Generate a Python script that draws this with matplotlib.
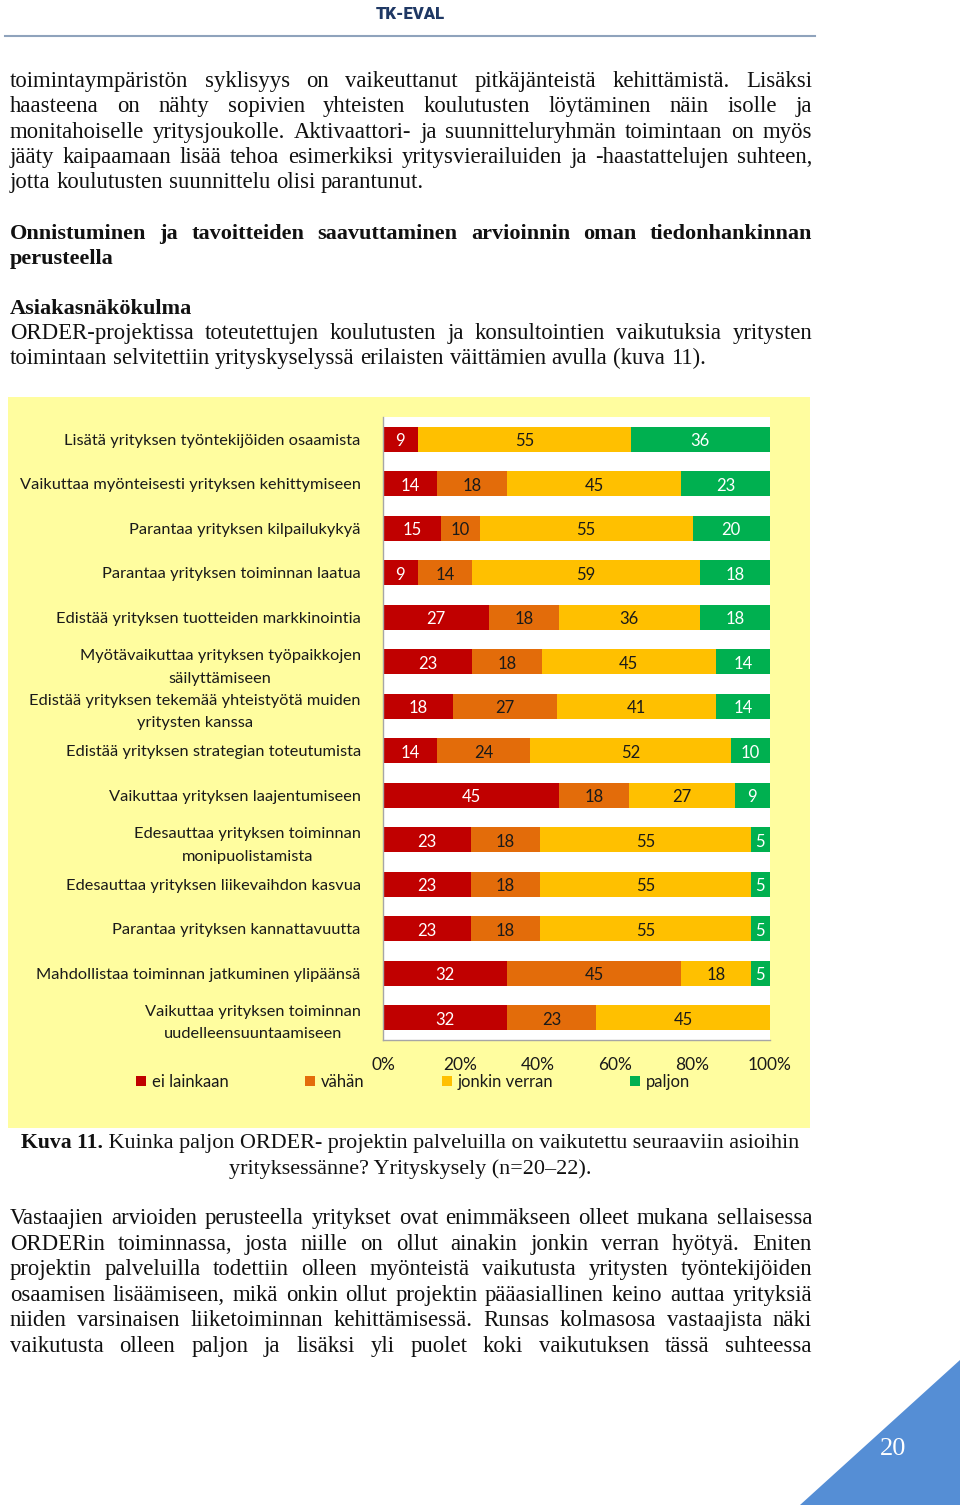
import matplotlib
matplotlib.use("Agg")
import matplotlib.pyplot as plt
from matplotlib.patches import Rectangle, Polygon
import numpy as np

W, H = 960, 1505

# chart data (percent, top row first)
categories = [
    "Lisätä yrityksen työntekijöiden osaamista",
    "Vaikuttaa myönteisesti yrityksen kehittymiseen",
    "Parantaa yrityksen kilpailukykyä",
    "Parantaa yrityksen toiminnan laatua",
    "Edistää yrityksen tuotteiden markkinointia",
    "Myötävaikuttaa yrityksen työpaikkojen\nsäilyttämiseen",
    "Edistää yrityksen tekemää yhteistyötä muiden\nyritysten kanssa",
    "Edistää yrityksen strategian toteutumista",
    "Vaikuttaa yrityksen laajentumiseen",
    "Edesauttaa yrityksen toiminnan\nmonipuolistamista",
    "Edesauttaa yrityksen liikevaihdon kasvua",
    "Parantaa yrityksen kannattavuutta",
    "Mahdollistaa toiminnan jatkuminen ylipäänsä",
    "Vaikuttaa yrityksen toiminnan\nuudelleensuuntaamiseen",
]
ei_lainkaan = [9, 14, 15, 9, 27, 23, 18, 14, 45, 23, 23, 23, 32, 32]
vahan = [0, 18, 10, 14, 18, 18, 27, 24, 18, 18, 18, 18, 45, 23]
jonkin_verran = [55, 45, 55, 59, 36, 45, 41, 52, 27, 55, 55, 55, 18, 45]
paljon = [36, 23, 20, 18, 18, 14, 14, 10, 9, 5, 5, 5, 5, 0]
series_names = ["ei lainkaan", "vähän", "jonkin verran", "paljon"]
series_colors = ["#C00000", "#E36C0A", "#FFC000", "#00B050"]
label_colors = ["white", "#1a1a1a", "#1a1a1a", "white"]
xticks = [0, 20, 40, 60, 80, 100]

# page text
para1 = [
    "toimintaympäristön syklisyys on vaikeuttanut pitkäjänteistä kehittämistä. Lisäksi",
    "haasteena on nähty sopivien yhteisten koulutusten löytäminen näin isolle ja",
    "monitahoiselle yritysjoukolle. Aktivaattori- ja suunnitteluryhmän toimintaan on myös",
    "jääty kaipaamaan lisää tehoa esimerkiksi yritysvierailuiden ja -haastattelujen suhteen,",
    "jotta koulutusten suunnittelu olisi parantunut.",
]
heading = [
    "Onnistuminen ja tavoitteiden saavuttaminen arvioinnin oman tiedonhankinnan",
    "perusteella",
]
para2 = [
    "ORDER-projektissa toteutettujen koulutusten ja konsultointien vaikutuksia yritysten",
    "toimintaan selvitettiin yrityskyselyssä erilaisten väittämien avulla (kuva 11).",
]
para3 = [
    "Vastaajien arvioiden perusteella yritykset ovat enimmäkseen olleet mukana sellaisessa",
    "ORDERin toiminnassa, josta niille on ollut ainakin jonkin verran hyötyä. Eniten",
    "projektin palveluilla todettiin olleen myönteistä vaikutusta yritysten työntekijöiden",
    "osaamisen lisäämiseen, mikä onkin ollut projektin pääasiallinen keino auttaa yrityksiä",
    "niiden varsinaisen liiketoiminnan kehittämisessä. Runsas kolmasosa vastaajista näki",
    "vaikutusta olleen paljon ja lisäksi yli puolet koki vaikutuksen tässä suhteessa",
]

fig = plt.figure(figsize=(W / 100, H / 100), dpi=100)
fig.patch.set_facecolor("white")
renderer = fig.canvas.get_renderer()


def fx(x):
    return x / W


def fy(y):
    return 1 - y / H


def put(x, y, s, **kw):
    return fig.text(fx(x), fy(y), s, **kw)


def justify(line, y, x0=10, x1=812, full=True, **kw):
    words = line.split(" ")
    objs = [put(x0, y, w, va="baseline", **kw) for w in words]
    widths = [o.get_window_extent(renderer).width for o in objs]
    if full and len(words) > 1:
        gap = (x1 - x0 - sum(widths)) / (len(words) - 1)
    else:
        a = put(0, 0, "a a", **kw)
        b = put(0, 0, "aa", **kw)
        gap = a.get_window_extent(renderer).width - b.get_window_extent(renderer).width
        a.remove()
        b.remove()
    x = x0
    for o, w in zip(objs, widths):
        o.set_x(fx(x))
        x += w + gap


serif = dict(family="Liberation Serif", fontsize=16.4, color="#111111")
serif_b = dict(family="Liberation Serif", fontsize=16, color="#111111", fontweight="bold")
cap = dict(family="Liberation Serif", fontsize=15.9, color="#111111")
cap_b = dict(family="Liberation Serif", fontsize=15.6, color="#111111", fontweight="bold")

# header
put(410, 19, "TK-EVAL", ha="center", va="baseline", family="Roboto",
    fontweight="heavy", fontsize=12, color="#1F3864")
fig.add_artist(plt.Line2D([fx(5), fx(815)], [fy(36), fy(36)], color="#8FA3BC", lw=1.5))

for i, ln in enumerate(para1):
    justify(ln, 87 + i * 25.3, full=(i < len(para1) - 1), **serif)
justify(heading[0], 239, **serif_b)
justify(heading[1], 264, full=False, **serif_b)
justify("Asiakasnäkökulma", 314, full=False, **serif_b)
justify(para2[0], 339, **serif)
justify(para2[1], 364, full=False, **serif)

# yellow chart background
fig.add_artist(Rectangle((fx(8), fy(1128)), fx(810) - fx(8), fy(397) - fy(1128),
                         transform=fig.transFigure, facecolor="#FFFD9F",
                         edgecolor="none", zorder=0))

ax = fig.add_axes([fx(383), fy(1040), fx(770) - fx(383), fy(417) - fy(1040)])
ax.set_facecolor("white")
data = np.array([ei_lainkaan, vahan, jonkin_verran, paljon], dtype=float)
totals = data.sum(axis=0)
pct = data / totals * 100
ypos = np.arange(len(categories))
left = np.zeros(len(categories))
for k in range(4):
    ax.barh(ypos, pct[k], left=left, height=0.56, color=series_colors[k],
            label=series_names[k])
    for j in range(len(categories)):
        if data[k, j] > 0:
            ax.text(left[j] + pct[k, j] / 2, ypos[j] + 0.05, f"{int(data[k, j])}",
                    ha="center", va="center", family="Lato", fontsize=12,
                    color=label_colors[k])
    left += pct[k]

ax.set_xlim(0, 100)
ax.set_ylim(len(categories) - 0.5, -0.5)
ax.set_yticks(ypos)
ax.set_yticklabels(categories, family="Lato", fontsize=11.8, color="#1a1a1a",
                   multialignment="center", linespacing=1.75)
ax.set_xticks(xticks)
ax.set_xticklabels([f"{v}%" for v in xticks], family="Lato", fontsize=12.5,
                   color="#1a1a1a")
ax.tick_params(axis="y", length=0, pad=16)
ax.tick_params(axis="x", length=0, pad=12.5)
for s in ["top", "right"]:
    ax.spines[s].set_visible(False)
for s in ["left", "bottom"]:
    ax.spines[s].set_color("#A6A6A6")
    ax.spines[s].set_linewidth(1)

handles, labels = ax.get_legend_handles_labels()
fig.legend(handles, labels, loc="center", bbox_to_anchor=(fx(413), fy(1082)),
           ncol=4, frameon=False, prop=dict(family="Lato", size=12),
           handlelength=0.6, handleheight=0.6, handletextpad=0.35,
           columnspacing=4.6, labelcolor="#1a1a1a")

# caption
cap1a = put(0, 1148, "Kuva 11.", va="baseline", **cap_b)
cap1b = put(0, 1148, " Kuinka paljon ORDER- projektin palveluilla on vaikutettu seuraaviin asioihin",
            va="baseline", **cap)
wa = cap1a.get_window_extent(renderer).width
wb = cap1b.get_window_extent(renderer).width
x_start = 410 - (wa + wb) / 2
cap1a.set_x(fx(x_start))
cap1b.set_x(fx(x_start + wa))
put(410, 1174, "yrityksessänne? Yrityskysely (n=20–22).", ha="center", va="baseline", **cap)

for i, ln in enumerate(para3):
    justify(ln, 1224 + i * 25.6, **serif)

# page corner
fig.add_artist(Polygon([[fx(800), fy(1505)], [fx(960), fy(1360)], [fx(960), fy(1505)]],
                       closed=True, transform=fig.transFigure,
                       facecolor="#558ED5", edgecolor="none"))
put(893, 1455, "20", ha="center", va="baseline", family="Liberation Serif",
    fontsize=19, color="white")

fig.savefig("out.png", dpi=100)
